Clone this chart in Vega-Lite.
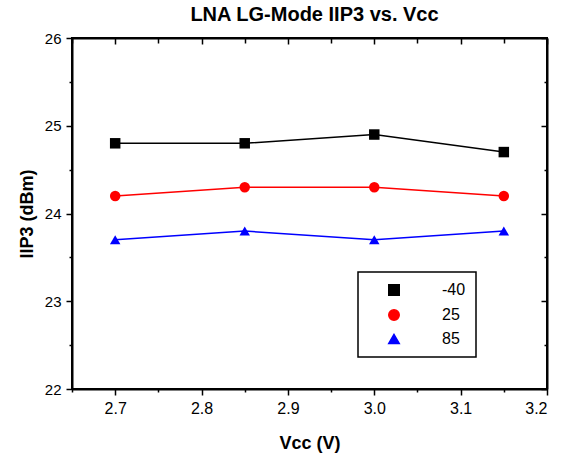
{
  "$schema": "https://vega.github.io/schema/vega-lite/v6.json",
  "width": 475,
  "height": 351,
  "autosize": "none",
  "padding": {"left": 72, "top": 38, "right": 22, "bottom": 71},
  "background": "white",
  "title": {"text": "LNA LG-Mode IIP3 vs. Vcc", "fontSize": 20, "font": "Liberation Sans", "fontWeight": "bold", "offset": 6, "color": "black", "dx": 5},
  "config": {
    "view": {"stroke": "black", "strokeWidth": 2},
    "axis": {"labelFont": "Liberation Sans", "titleFont": "Liberation Sans", "labelFontSize": 16, "titleFontSize": 18, "titleFontWeight": "bold", "labelColor": "black", "titleColor": "black", "grid": false, "domainColor": "black", "domainWidth": 2, "tickColor": "black", "tickWidth": 1.5},
    "legend": {"labelFont": "Liberation Sans", "labelFontSize": 16, "labelColor": "black", "strokeWidth": 1.5}
  },
  "data": {"values": [
    {"vcc": 2.7, "iip3": 24.8, "temp": "-40"},
    {"vcc": 2.85, "iip3": 24.8, "temp": "-40"},
    {"vcc": 3.0, "iip3": 24.9, "temp": "-40"},
    {"vcc": 3.15, "iip3": 24.7, "temp": "-40"},
    {"vcc": 2.7, "iip3": 24.2, "temp": "25"},
    {"vcc": 2.85, "iip3": 24.3, "temp": "25"},
    {"vcc": 3.0, "iip3": 24.3, "temp": "25"},
    {"vcc": 3.15, "iip3": 24.2, "temp": "25"},
    {"vcc": 2.7, "iip3": 23.7, "temp": "85"},
    {"vcc": 2.85, "iip3": 23.8, "temp": "85"},
    {"vcc": 3.0, "iip3": 23.7, "temp": "85"},
    {"vcc": 3.15, "iip3": 23.8, "temp": "85"}
  ]},
  "layer": [
    {
      "mark": {"type": "line", "strokeWidth": 1.5},
      "encoding": {
        "x": {"field": "vcc", "type": "quantitative", "scale": {"domain": [2.65, 3.2], "nice": false, "zero": false},
              "axis": {"orient": "bottom", "values": [2.7, 2.8, 2.9, 3.0, 3.1, 3.2], "format": ".1f", "title": "Vcc (V)", "tickSize": 6, "labelPadding": 5, "titlePadding": 18}},
        "y": {"field": "iip3", "type": "quantitative", "scale": {"domain": [22, 26], "nice": false, "zero": false},
              "axis": {"orient": "left", "values": [22, 23, 24, 25, 26], "format": "d", "title": "IIP3 (dBm)", "labelFontSize": 15, "tickSize": 6, "labelPadding": 5, "titlePadding": 8}},
        "color": {"field": "temp", "type": "nominal", "scale": {"domain": ["-40", "25", "85"], "range": ["#000000", "#ff0000", "#0000ff"]}}
      }
    },
    {
      "mark": {"type": "point", "filled": true, "size": 110, "opacity": 1},
      "encoding": {
        "x": {"field": "vcc", "type": "quantitative", "axis": {"orient": "top", "values": [2.7, 2.8, 2.9, 3.0, 3.1, 3.2], "labels": false, "title": null, "tickSize": -6}},
        "y": {"field": "iip3", "type": "quantitative", "axis": {"orient": "right", "values": [22, 23, 24, 25, 26], "labels": false, "title": null, "tickSize": -6}},
        "color": {"field": "temp", "type": "nominal",
          "legend": {"title": null, "orient": "none", "legendX": 286, "legendY": 234, "strokeColor": "black", "fillColor": "white", "padding": 10, "symbolSize": 110, "symbolOffset": 18, "labelOffset": 40, "rowPadding": 7}},
        "shape": {"field": "temp", "type": "nominal", "scale": {"domain": ["-40", "25", "85"], "range": ["square", "circle", "triangle-up"]},
          "legend": {"title": null, "orient": "none", "legendX": 286, "legendY": 234, "strokeColor": "black", "fillColor": "white", "padding": 10, "symbolSize": 110, "symbolOffset": 18, "labelOffset": 40, "rowPadding": 7}}
      }
    },
    {
      "mark": {"type": "point", "opacity": 0},
      "encoding": {
        "x": {"field": "vcc", "type": "quantitative", "axis": {"orient": "bottom", "values": [2.65, 2.75, 2.85, 2.95, 3.05, 3.15], "labels": false, "title": null, "domain": false, "tickSize": 3}},
        "y": {"field": "iip3", "type": "quantitative", "axis": {"orient": "left", "values": [22.5, 23.5, 24.5, 25.5], "labels": false, "title": null, "domain": false, "tickSize": 3}}
      }
    },
    {
      "mark": {"type": "point", "opacity": 0},
      "encoding": {
        "x": {"field": "vcc", "type": "quantitative", "axis": {"orient": "top", "values": [2.65, 2.75, 2.85, 2.95, 3.05, 3.15], "labels": false, "title": null, "domain": false, "tickSize": -5}},
        "y": {"field": "iip3", "type": "quantitative", "axis": {"orient": "right", "values": [22.5, 23.5, 24.5, 25.5], "labels": false, "title": null, "domain": false, "tickSize": -3}}
      }
    }
  ],
  "resolve": {"axis": {"x": "independent", "y": "independent"}}
}
